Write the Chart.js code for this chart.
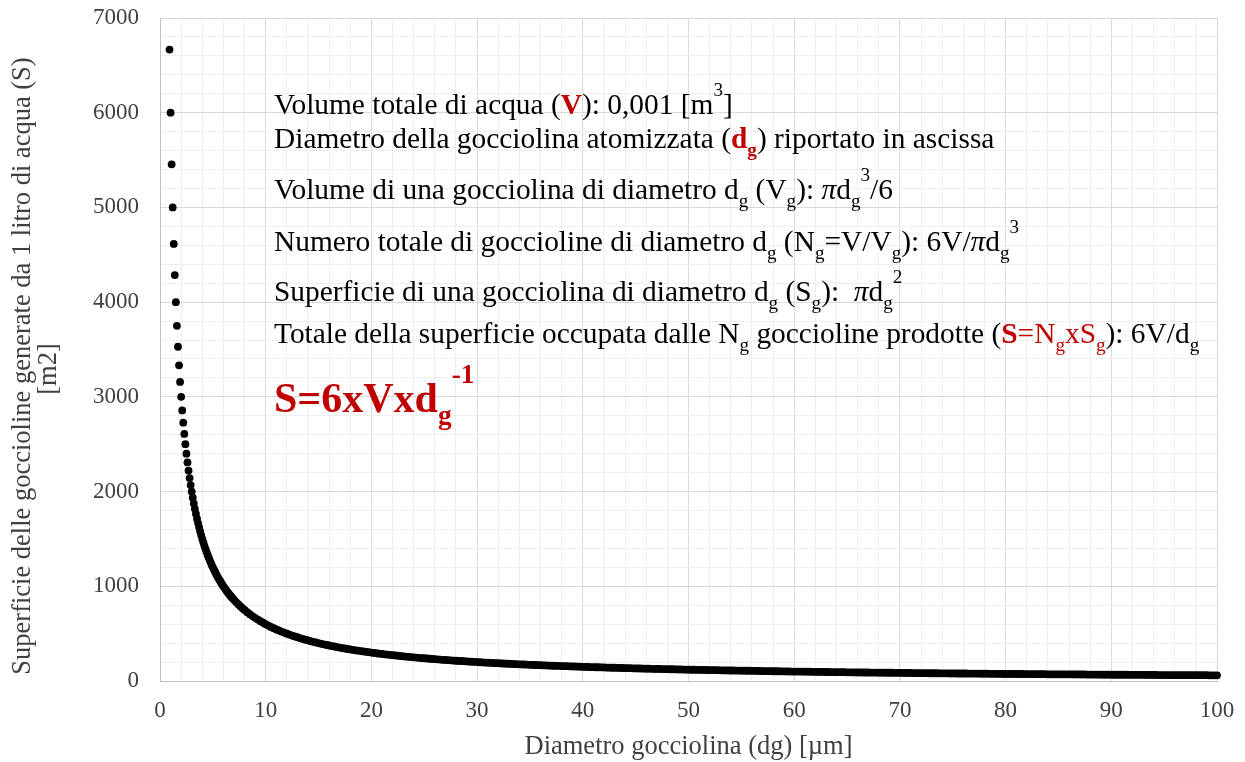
<!DOCTYPE html>
<html lang="it">
<head>
<meta charset="utf-8">
<title>Superficie delle goccioline</title>
<script src="https://cdn.jsdelivr.net/npm/chart.js@4.4.1/dist/chart.umd.min.js"></script>
<style>
    html, body { margin: 0; padding: 0; background: #ffffff; }
    #grafico { display: block; }
</style>
</head>
<body>
<canvas id="grafico" width="1245" height="762"></canvas>
<script>
//Diametro della gocciolina [µm] (ascissa)
const diametro = [
    0.9, 1, 1.1, 1.2, 1.3, 1.4, 1.5, 1.6, 1.7, 1.8,
    1.9, 2, 2.1, 2.2, 2.3, 2.4, 2.5, 2.6, 2.7, 2.8,
    2.9, 3, 3.1, 3.2, 3.3, 3.4, 3.5, 3.6, 3.7, 3.8,
    3.9, 4, 4.1, 4.2, 4.3, 4.4, 4.5, 4.6, 4.7, 4.8,
    4.9, 5, 5.1, 5.2, 5.3, 5.4, 5.5, 5.6, 5.7, 5.8,
    5.9, 6, 6.1, 6.2, 6.3, 6.4, 6.5, 6.6, 6.7, 6.8,
    6.9, 7,
    7.2, 7.4, 7.6, 7.8, 8,
    8.25, 8.5, 8.75, 9, 9.25, 9.5, 9.75, 10,
    10.25, 10.5, 10.75, 11, 11.25, 11.5, 11.75, 12, 12.25, 12.5, 12.75, 13, 13.25, 13.5, 13.75, 14, 14.25, 14.5, 14.75, 15,
    15.25, 15.5, 15.75, 16, 16.25, 16.5, 16.75, 17, 17.25, 17.5, 17.75, 18, 18.25, 18.5, 18.75, 19, 19.25, 19.5, 19.75, 20,
    20.25, 20.5, 20.75, 21, 21.25, 21.5, 21.75, 22, 22.25, 22.5, 22.75, 23, 23.25, 23.5, 23.75, 24, 24.25, 24.5, 24.75, 25,
    25.25, 25.5, 25.75, 26, 26.25, 26.5, 26.75, 27, 27.25, 27.5, 27.75, 28, 28.25, 28.5, 28.75, 29, 29.25, 29.5, 29.75, 30,
    30.25, 30.5, 30.75, 31, 31.25, 31.5, 31.75, 32, 32.25, 32.5, 32.75, 33, 33.25, 33.5, 33.75, 34, 34.25, 34.5, 34.75, 35,
    35.25, 35.5, 35.75, 36, 36.25, 36.5, 36.75, 37, 37.25, 37.5, 37.75, 38, 38.25, 38.5, 38.75, 39, 39.25, 39.5, 39.75, 40,
    40.25, 40.5, 40.75, 41, 41.25, 41.5, 41.75, 42, 42.25, 42.5, 42.75, 43, 43.25, 43.5, 43.75, 44, 44.25, 44.5, 44.75, 45,
    45.25, 45.5, 45.75, 46, 46.25, 46.5, 46.75, 47, 47.25, 47.5, 47.75, 48, 48.25, 48.5, 48.75, 49, 49.25, 49.5, 49.75, 50,
    50.25, 50.5, 50.75, 51, 51.25, 51.5, 51.75, 52, 52.25, 52.5, 52.75, 53, 53.25, 53.5, 53.75, 54, 54.25, 54.5, 54.75, 55,
    55.25, 55.5, 55.75, 56, 56.25, 56.5, 56.75, 57, 57.25, 57.5, 57.75, 58, 58.25, 58.5, 58.75, 59, 59.25, 59.5, 59.75, 60,
    60.25, 60.5, 60.75, 61, 61.25, 61.5, 61.75, 62, 62.25, 62.5, 62.75, 63, 63.25, 63.5, 63.75, 64, 64.25, 64.5, 64.75, 65,
    65.25, 65.5, 65.75, 66, 66.25, 66.5, 66.75, 67, 67.25, 67.5, 67.75, 68, 68.25, 68.5, 68.75, 69, 69.25, 69.5, 69.75, 70,
    70.25, 70.5, 70.75, 71, 71.25, 71.5, 71.75, 72, 72.25, 72.5, 72.75, 73, 73.25, 73.5, 73.75, 74, 74.25, 74.5, 74.75, 75,
    75.25, 75.5, 75.75, 76, 76.25, 76.5, 76.75, 77, 77.25, 77.5, 77.75, 78, 78.25, 78.5, 78.75, 79, 79.25, 79.5, 79.75, 80,
    80.25, 80.5, 80.75, 81, 81.25, 81.5, 81.75, 82, 82.25, 82.5, 82.75, 83, 83.25, 83.5, 83.75, 84, 84.25, 84.5, 84.75, 85,
    85.25, 85.5, 85.75, 86, 86.25, 86.5, 86.75, 87, 87.25, 87.5, 87.75, 88, 88.25, 88.5, 88.75, 89, 89.25, 89.5, 89.75, 90,
    90.25, 90.5, 90.75, 91, 91.25, 91.5, 91.75, 92, 92.25, 92.5, 92.75, 93, 93.25, 93.5, 93.75, 94, 94.25, 94.5, 94.75, 95,
    95.25, 95.5, 95.75, 96, 96.25, 96.5, 96.75, 97, 97.25, 97.5, 97.75, 98, 98.25, 98.5, 98.75, 99, 99.25, 99.5, 99.75, 100
];

//Superficie delle goccioline generate da 1 litro di acqua [m2]
const superficie = [
    6667, 6000, 5455, 5000, 4615, 4286, 4000, 3750, 3529, 3333,
    3158, 3000, 2857, 2727, 2609, 2500, 2400, 2308, 2222, 2143,
    2069, 2000, 1935, 1875, 1818, 1765, 1714, 1667, 1622, 1579,
    1538, 1500, 1463, 1429, 1395, 1364, 1333, 1304, 1277, 1250,
    1224, 1200, 1176, 1154, 1132, 1111, 1091, 1071, 1053, 1034,
    1017, 1000, 984, 968, 952, 938, 923, 909, 896, 882,
    870, 857,
    833, 811, 789, 769, 750,
    727, 706, 686, 667, 649, 632, 615, 600,
    585, 571, 558, 545, 533, 522, 511, 500, 490, 480, 471, 462, 453, 444, 436, 429, 421, 414, 407, 400,
    393, 387, 381, 375, 369, 364, 358, 353, 348, 343, 338, 333, 329, 324, 320, 316, 312, 308, 304, 300,
    296, 293, 289, 286, 282, 279, 276, 273, 270, 267, 264, 261, 258, 255, 253, 250, 247, 245, 242, 240,
    238, 235, 233, 231, 229, 226, 224, 222, 220, 218, 216, 214, 212, 211, 209, 207, 205, 203, 202, 200,
    198, 197, 195, 194, 192, 190, 189, 188, 186, 185, 183, 182, 180, 179, 178, 176, 175, 174, 173, 171,
    170, 169, 168, 167, 166, 164, 163, 162, 161, 160, 159, 158, 157, 156, 155, 154, 153, 152, 151, 150,
    149, 148, 147, 146, 145, 145, 144, 143, 142, 141, 140, 140, 139, 138, 137, 136, 136, 135, 134, 133,
    133, 132, 131, 130, 130, 129, 128, 128, 127, 126, 126, 125, 124, 124, 123, 122, 122, 121, 121, 120,
    119, 119, 118, 118, 117, 117, 116, 115, 115, 114, 114, 113, 113, 112, 112, 111, 111, 110, 110, 109,
    109, 108, 108, 107, 107, 106, 106, 105, 105, 104, 104, 103, 103, 103, 102, 102, 101, 101, 100, 100,
    100, 99, 99, 98, 98, 98, 97, 97, 96, 96, 96, 95, 95, 94, 94, 94, 93, 93, 93, 92,
    92, 92, 91, 91, 91, 90, 90, 90, 89, 89, 89, 88, 88, 88, 87, 87, 87, 86, 86, 86,
    85, 85, 85, 85, 84, 84, 84, 83, 83, 83, 82, 82, 82, 82, 81, 81, 81, 81, 80, 80,
    80, 79, 79, 79, 79, 78, 78, 78, 78, 77, 77, 77, 77, 76, 76, 76, 76, 75, 75, 75,
    75, 75, 74, 74, 74, 74, 73, 73, 73, 73, 73, 72, 72, 72, 72, 71, 71, 71, 71, 71,
    70, 70, 70, 70, 70, 69, 69, 69, 69, 69, 68, 68, 68, 68, 68, 67, 67, 67, 67, 67,
    66, 66, 66, 66, 66, 66, 65, 65, 65, 65, 65, 65, 64, 64, 64, 64, 64, 63, 63, 63,
    63, 63, 63, 62, 62, 62, 62, 62, 62, 62, 61, 61, 61, 61, 61, 61, 60, 60, 60, 60
];

//Etichette degli assi
const etichetteX = [0, 10, 20, 30, 40, 50, 60, 70, 80, 90, 100];
const etichetteY = [0, 1000, 2000, 3000, 4000, 5000, 6000, 7000];

const FONT = '"Liberation Serif", "Times New Roman", serif';
const ROSSO = '#c00000';
const GRIGIO_TESTO = '#404040';

/**
 * Builds a piece of rich text.
 *
 * @param t {string}
 * @param o {Object} b = bold, i = italic, c = colour, p = 'sub' | 'sup'
 * @returns {Object}
 */
function T(t, o) {
    return Object.assign({ t: t }, o || {});
}

const subG = T('g', { p: 'sub' });

//Righe del riquadro di testo: linea di base e pezzi di testo
const righeTesto = [
    { y: 114, size: 29.4, parti: [T('Volume totale di acqua ('), T('V', { b: 1, c: ROSSO }), T('): 0,001 [m'), T('3', { p: 'sup' }), T(']')] },
    { y: 148, size: 29.4, parti: [T('Diametro della gocciolina atomizzata ('), T('d', { b: 1, c: ROSSO }), T('g', { b: 1, c: ROSSO, p: 'sub' }), T(') riportato in ascissa')] },
    { y: 199, size: 29.4, parti: [T('Volume di una gocciolina di diametro d'), subG, T(' (V'), subG, T('): '), T('\u03c0', { i: 1 }), T('d'), subG, T('3', { p: 'sup' }), T('/6')] },
    { y: 251, size: 29.4, parti: [T('Numero totale di goccioline di diametro d'), subG, T(' (N'), subG, T('=V/V'), subG, T('): 6V/'), T('\u03c0', { i: 1 }), T('d'), subG, T('3', { p: 'sup' })] },
    { y: 301, size: 29.4, parti: [T('Superficie di una gocciolina di diametro d'), subG, T(' (S'), subG, T('):  '), T('\u03c0', { i: 1 }), T('d'), subG, T('2', { p: 'sup' })] },
    { y: 343, size: 29.4, parti: [T('Totale della superficie occupata dalle N'), subG, T(' goccioline prodotte ('), T('S', { b: 1, c: ROSSO }), T('=N', { c: ROSSO }), T('g', { c: ROSSO, p: 'sub' }), T('xS', { c: ROSSO }), T('g', { c: ROSSO, p: 'sub' }), T('): 6V/d'), subG] },
    { y: 412, size: 42, supRaise: 0.69, parti: [T('S=6xVxd', { b: 1, c: ROSSO }), T('g', { b: 1, c: ROSSO, p: 'sub' }), T('-1', { b: 1, c: ROSSO, p: 'sup' })] }
];

/**
 * Draws one line of text with subscripts and superscripts.
 */
function disegnaRiga(ctx, x, y, parti, size, supRaise) {
    parti.forEach(function (p) {
        let fs = size;
        let dy = 0;
        if (p.p === 'sub') {
            fs = size * 0.65;
            dy = size * 0.28;
        } else if (p.p === 'sup') {
            fs = size * 0.65;
            dy = -size * (supRaise || 0.6);
        }
        ctx.font = (p.i ? 'italic ' : '') + (p.b ? 'bold ' : '') + fs + 'px ' + FONT;
        ctx.fillStyle = p.c || '#000000';
        ctx.fillText(p.t, x, y + dy);
        x += ctx.measureText(p.t).width;
    });
}

//Plugin per il titolo verticale e il riquadro delle formule
const testoGrafico = {
    id: 'testoGrafico',
    afterDraw: function (chart) {
        const ctx = chart.ctx;
        ctx.save();
        ctx.textBaseline = 'alphabetic';
        ctx.textAlign = 'left';
        righeTesto.forEach(function (riga) {
            disegnaRiga(ctx, 274, riga.y, riga.parti, riga.size, riga.supRaise);
        });

        ctx.fillStyle = GRIGIO_TESTO;
        ctx.font = '26.5px ' + FONT;
        ctx.textAlign = 'center';
        [['Superficie delle goccioline generate da 1 litro di acqua (S)', 30, 366], ['[m2]', 56, 369]].forEach(function (r) {
            ctx.save();
            ctx.translate(r[1], r[2]);
            ctx.rotate(-Math.PI / 2);
            ctx.fillText(r[0], 0, 0);
            ctx.restore();
        });
        ctx.restore();
    }
};

function coloreGriglia(passoMaggiore) {
    return function (c) {
        return (c.tick && c.tick.value % passoMaggiore === 0) ? '#d9d9d9' : '#efefef';
    };
}

const config = {
    type: 'scatter',
    data: {
        datasets: [{
            label: 'Superficie',
            data: diametro.map(function (d, i) { return { x: d, y: superficie[i] }; }),
            backgroundColor: '#000000',
            borderWidth: 0,
            pointRadius: 3.9,
            pointHoverRadius: 3.9,
            clip: false
        }]
    },
    options: {
        responsive: false,
        animation: false,
        layout: { autoPadding: false, padding: { top: 18, right: 28, bottom: 0, left: 0 } },
        plugins: {
            legend: { display: false },
            tooltip: { enabled: false }
        },
        scales: {
            x: {
                type: 'linear',
                min: 0,
                max: 100,
                grid: { color: coloreGriglia(10), drawTicks: false },
                border: { color: '#bfbfbf' },
                ticks: {
                    stepSize: 2,
                    maxTicksLimit: 60,
                    autoSkip: false,
                    maxRotation: 0,
                    padding: 16,
                    color: GRIGIO_TESTO,
                    font: { family: FONT, size: 23 },
                    callback: function (v) { return etichetteX.includes(v) ? String(v) : ''; }
                },
                title: {
                    display: true,
                    text: 'Diametro gocciolina (dg) [\u00b5m]',
                    color: GRIGIO_TESTO,
                    font: { family: FONT, size: 26.5, lineHeight: 1.1 },
                    padding: { top: 0, bottom: 0 }
                },
                //fixed height, and no extra room asked for the end labels
                afterFit: function (scale) {
                    scale.height = 81;
                    scale.paddingLeft = 0;
                    scale.paddingRight = 0;
                }
            },
            y: {
                type: 'linear',
                min: 0,
                max: 7000,
                grid: { color: coloreGriglia(1000), drawTicks: false },
                border: { color: '#bfbfbf' },
                ticks: {
                    stepSize: 200,
                    maxTicksLimit: 60,
                    autoSkip: false,
                    padding: 21,
                    color: GRIGIO_TESTO,
                    font: { family: FONT, size: 23 },
                    callback: function (v) { return etichetteY.includes(v) ? String(v) : ''; }
                },
                afterFit: function (scale) {
                    scale.width = 160;
                    scale.paddingTop = 0;
                    scale.paddingBottom = 0;
                }
            }
        }
    },
    plugins: [testoGrafico]
};

window.myChart = new Chart(document.getElementById('grafico').getContext('2d'), config);
</script>
</body>
</html>
